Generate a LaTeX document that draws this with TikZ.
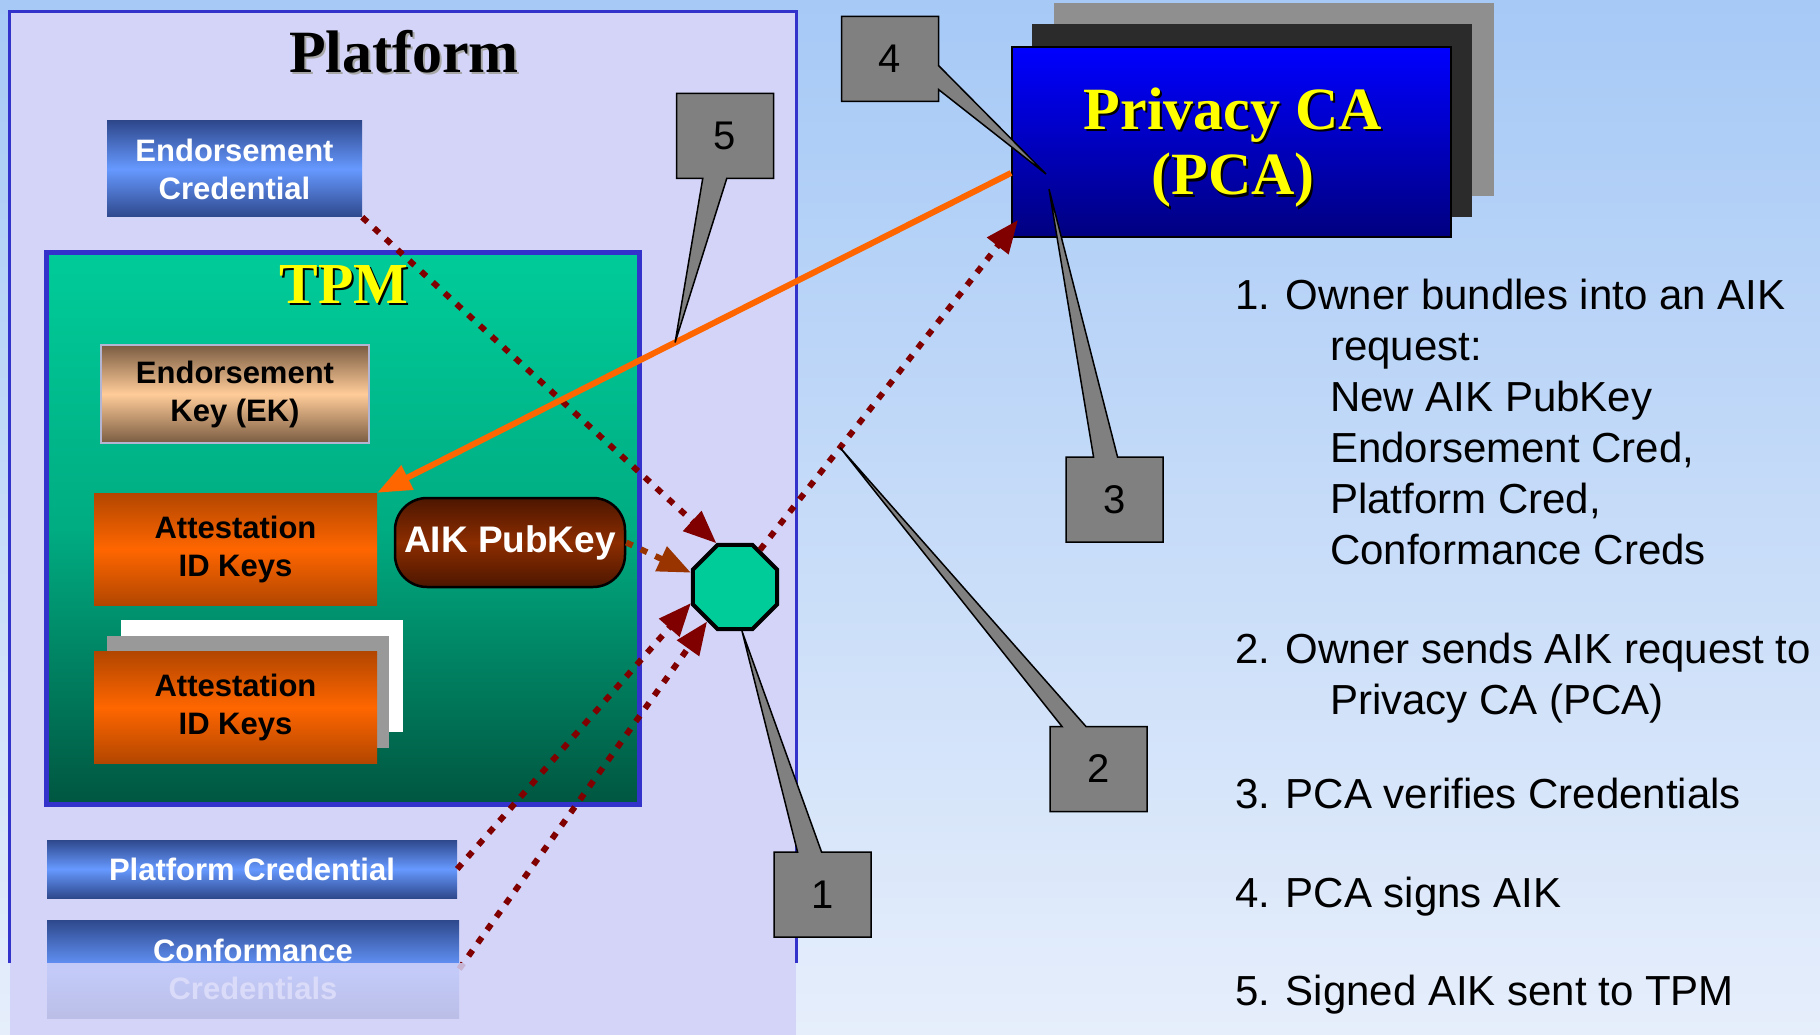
\documentclass[tikz,border=0pt]{standalone}
\usepackage{fontspec}
\setmainfont{Liberation Sans}
\newfontfamily\serifbf{Liberation Serif}
\usepackage{tikz}
\usetikzlibrary{calc,shapes.geometric,shapes.callouts,arrows.meta}
\definecolor{bgtop}{RGB}{166,201,246}
\definecolor{bgbottom}{RGB}{230,238,251}
\definecolor{platfill}{RGB}{212,212,248}
\definecolor{platline}{RGB}{51,51,204}
\definecolor{tpmtop}{RGB}{0,204,153}
\definecolor{tpmmid}{RGB}{0,172,130}
\definecolor{tpmbot}{RGB}{0,86,64}
\definecolor{creddark}{RGB}{46,72,140}
\definecolor{credlight}{RGB}{102,153,255}
\definecolor{ekdark}{RGB}{122,92,66}
\definecolor{eklight}{RGB}{255,204,153}
\definecolor{atkdark}{RGB}{178,70,0}
\definecolor{atklight}{RGB}{255,102,0}
\definecolor{aikdark}{RGB}{77,22,0}
\definecolor{aiklight}{RGB}{140,45,0}
\definecolor{pcatop}{RGB}{0,0,255}
\definecolor{pcabot}{RGB}{0,0,128}
\definecolor{pcayellow}{RGB}{255,255,0}
\definecolor{flowred}{RGB}{128,0,0}
\definecolor{flowbrown}{RGB}{153,51,0}
\definecolor{signorange}{RGB}{255,102,0}
\definecolor{calloutgray}{RGB}{128,128,128}
\newcommand{\dropshadow}[2]{\leavevmode\rlap{\kern2pt\raisebox{-2pt}{\color{#1}#2}}#2}
\tikzstyle{keybox}=[rectangle,inner sep=0pt,align=center,font=\bfseries\fontsize{31}{38}\selectfont]
\tikzstyle{credbox}=[keybox,text=white,top color=creddark,bottom color=creddark,middle color=credlight]
\tikzstyle{ekbox}=[keybox,draw=black!15!platfill,line width=2pt,top color=ekdark,bottom color=ekdark,middle color=eklight]
\tikzstyle{atkbox}=[keybox,minimum width=283pt,minimum height=112pt,top color=atkdark,bottom color=atkdark,middle color=atklight]
\tikzstyle{card}=[rectangle,inner sep=0pt,minimum width=282pt,minimum height=112pt]
\tikzstyle{numbox}=[rectangle callout,draw,line width=1.5pt,fill=calloutgray,inner sep=0pt,minimum width=97pt,minimum height=85pt,callout pointer width=24pt,font=\fontsize{40}{40}\selectfont]
\tikzstyle{flow}=[line width=6pt,dash pattern=on 7pt off 9pt,-{Triangle[length=33pt,width=26pt]}]
\tikzstyle{stepitem}=[anchor=base west,align=left,inner sep=0pt,font=\fontsize{42}{51}\selectfont]

\begin{document}
\begin{tikzpicture}[x=1pt,y=-1pt]
\useasboundingbox (0,0) rectangle (1820,1035);
\shade[top color=bgtop,bottom color=bgbottom] (0,0) rectangle (1820,1035);

\node[fill=platfill,inner sep=0pt,minimum width=786pt,minimum height=1023pt] (plat) at (403,523.5) {};
\draw[platline,line width=3pt] ([yshift=72pt]plat.south west) |- (plat.north east) -- ([yshift=72pt]plat.south east);
\node[anchor=base,font=\serifbf\bfseries\fontsize{60}{60}\selectfont] (plattitle) at (404,73) {\dropshadow{black!35}{Platform}};

\node[credbox,minimum width=255pt,minimum height=96pt] (ec) at (234.5,169) {Endorsement\\Credential};

\node[draw=platline,line width=5pt,inner sep=0pt,minimum width=593pt,minimum height=552pt,top color=tpmtop,bottom color=tpmbot,middle color=tpmmid] (tpm) at (343,528.5) {};
\node[anchor=base,text=pcayellow,font=\serifbf\bfseries\fontsize{58}{58}\selectfont] (tpmtitle) at (344,303) {\dropshadow{black}{TPM}};

\node[ekbox,minimum width=268pt,minimum height=98pt] (ek) at (235,394) {Endorsement\\Key (EK)};
\node[atkbox] (atk1) at (235.5,549) {Attestation\\ID Keys};
\node[rectangle,rounded corners=32pt,draw,line width=2.5pt,minimum width=230pt,minimum height=89pt,top color=aikdark,bottom color=aikdark,middle color=aiklight,text=white,font=\bfseries\fontsize{37}{37}\selectfont] (aik) at (510,542.5) {AIK PubKey};
\node[card,fill=white] (atkw) at (262,676) {};
\node[card,fill=black!40] (atkg) at (248,692) {};
\node[atkbox] (atk2) at (235.5,707.5) {Attestation\\ID Keys};

\node[credbox,minimum width=410pt,minimum height=58pt] (pc) at (252,869) {Platform Credential};
\node[credbox,minimum width=412pt,minimum height=98pt] (cc) at (253,969) {Conformance\\Credentials};

\node[regular polygon,regular polygon sides=8,minimum size=91pt,inner sep=0pt,draw,line width=4pt,fill=tpmtop] (oct) at (735,587) {};

\node[fill=black!44,inner sep=0pt,minimum width=440pt,minimum height=193pt] (pcag) at (1274,99.5) {};
\node[fill=black!83,inner sep=0pt,minimum width=440pt,minimum height=193pt] (pcad) at (1252,120.5) {};
\node[draw,line width=2pt,inner sep=0pt,minimum width=439pt,minimum height=190pt,top color=pcatop,bottom color=pcabot,text=pcayellow,align=center,font=\serifbf\bfseries\fontsize{60}{65}\selectfont] (pca) at (1231.5,142) {};
\node[anchor=base,text=pcayellow,align=center,font=\serifbf\bfseries\fontsize{60}{65}\selectfont] (pcatitle) at (1233,195) {\dropshadow{black}{Privacy CA}\\\dropshadow{black}{(PCA)}};

\coordinate (pcain) at ([shift={(7pt,18pt)}]pca.south west);
\coordinate (sigstart) at ([yshift=-31pt]pca.west);
\draw[flow,flowred] (ec.south east) -- (oct.113);
\draw[flow,flowbrown] (aik.east) -- (oct.162);
\draw[flow,flowred] (pc.east) -- (oct.200);
\draw[flow,flowred] (cc.east) -- (oct.231);
\draw[flow,flowred] (oct.56) -- (pcain);
\draw[signorange,line width=6pt,-{Triangle[length=34pt,width=26pt]}] (sigstart) -- (atk1.north east);

\fill[platfill,opacity=0.85] ([yshift=72pt]plat.south west) rectangle (plat.south east);

\coordinate (tip1) at (oct.-81);
\coordinate (tip2) at ($(oct.56)!0.31!(pcain)$);
\coordinate (tip3) at ([shift={(38pt,49pt)}]pca.south west);
\coordinate (tip4) at ([shift={(35pt,64pt)}]pca.south west);
\coordinate (tip5) at ($(sigstart)!0.53!(atk1.north east)$);
\node[numbox,callout absolute pointer={(tip1)}] (c1) at (822.5,894.5) {1};
\node[numbox,callout absolute pointer={(tip2)}] (c2) at (1098.5,769) {2};
\node[numbox,callout absolute pointer={(tip3)}] (c3) at (1114.5,499.5) {3};
\node[numbox,callout absolute pointer={(tip4)}] (c4) at (890,59) {4};
\node[numbox,callout absolute pointer={(tip5)}] (c5) at (725,136) {5};

\node[stepitem] (s1) at (1235,564) {1. Owner bundles into an AIK\\\hspace*{95pt}request:\\\hspace*{95pt}New AIK PubKey\\\hspace*{95pt}Endorsement Cred,\\\hspace*{95pt}Platform Cred,\\\hspace*{95pt}Conformance Creds};
\node[stepitem] (s2) at (1235,714) {2. Owner sends AIK request to\\\hspace*{95pt}Privacy CA (PCA)};
\node[stepitem] (s3) at (1235,808) {3. PCA verifies Credentials};
\node[stepitem] (s4) at (1235,907) {4. PCA signs AIK};
\node[stepitem] (s5) at (1235,1005) {5. Signed AIK sent to TPM};
\end{tikzpicture}
\end{document}
